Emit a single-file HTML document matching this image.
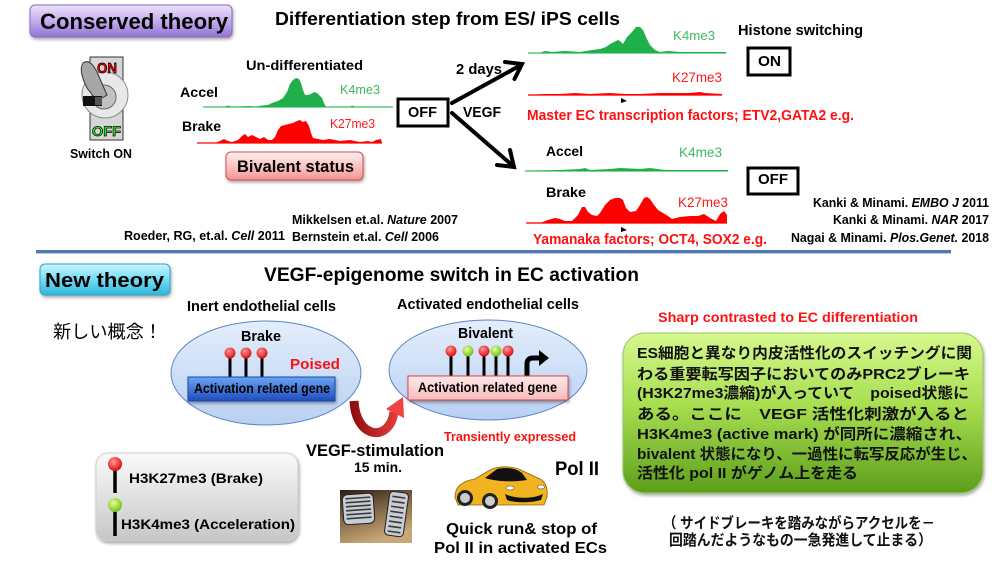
<!DOCTYPE html>
<html><head><meta charset="utf-8">
<style>
html,body{margin:0;padding:0;background:#fff;}
svg{display:block;}
text{font-family:"Liberation Sans","Noto Sans CJK JP",sans-serif;}
</style></head><body>
<svg width="1000" height="562" viewBox="0 0 1000 562" xmlns="http://www.w3.org/2000/svg">
<defs>
 <linearGradient id="gPurple" x1="0" y1="0" x2="0" y2="1"><stop offset="0" stop-color="#ece2fa"/><stop offset="0.5" stop-color="#c4aeee"/><stop offset="1" stop-color="#9272d2"/></linearGradient>
 <linearGradient id="gCyan" x1="0" y1="0" x2="0" y2="1"><stop offset="0" stop-color="#c8f6fd"/><stop offset="0.5" stop-color="#74dcf2"/><stop offset="1" stop-color="#2fb6dc"/></linearGradient>
 <linearGradient id="gPink" x1="0" y1="0" x2="0" y2="1"><stop offset="0" stop-color="#fff0f0"/><stop offset="0.5" stop-color="#fac4c4"/><stop offset="1" stop-color="#f29494"/></linearGradient>
 <linearGradient id="gEll" x1="0" y1="0" x2="0" y2="1"><stop offset="0" stop-color="#e4eefc"/><stop offset="1" stop-color="#b8d0f2"/></linearGradient>
 <linearGradient id="gBlue" x1="0" y1="0" x2="0" y2="1"><stop offset="0" stop-color="#6aa6f4"/><stop offset="1" stop-color="#1f4cbc"/></linearGradient>
 <linearGradient id="gPinkBox" x1="0" y1="0" x2="0" y2="1"><stop offset="0" stop-color="#fee8e8"/><stop offset="1" stop-color="#f8bcbc"/></linearGradient>
 <linearGradient id="gGreen" x1="0" y1="0" x2="0" y2="1"><stop offset="0" stop-color="#d6f88e"/><stop offset="0.45" stop-color="#a8de50"/><stop offset="1" stop-color="#5c9e1c"/></linearGradient>
 <linearGradient id="gLegend" x1="0" y1="0" x2="0" y2="1"><stop offset="0" stop-color="#fafafa"/><stop offset="1" stop-color="#c6c6c6"/></linearGradient>
 <linearGradient id="gRedArrow" x1="348" y1="0" x2="404" y2="0" gradientUnits="userSpaceOnUse"><stop offset="0" stop-color="#8a0808"/><stop offset="1" stop-color="#f04444"/></linearGradient>
 <linearGradient id="gPedalBg" x1="0" y1="0" x2="0.4" y2="1"><stop offset="0" stop-color="#2a1e12"/><stop offset="0.45" stop-color="#7a6040"/><stop offset="1" stop-color="#c8a878"/></linearGradient>
 <radialGradient id="gRedBall" cx="0.4" cy="0.35" r="0.7"><stop offset="0" stop-color="#ff9a9a"/><stop offset="1" stop-color="#dd0000"/></radialGradient>
 <radialGradient id="gGreenBall" cx="0.4" cy="0.35" r="0.7"><stop offset="0" stop-color="#e4ff9a"/><stop offset="1" stop-color="#6cbc10"/></radialGradient>
 <filter id="sh" x="-10%" y="-10%" width="130%" height="140%"><feDropShadow dx="1" dy="2" stdDeviation="1.5" flood-opacity="0.35"/></filter>
</defs>

<!-- ===== TOP SECTION ===== -->
<rect x="30" y="5" width="202" height="32" rx="5" fill="url(#gPurple)" stroke="#8a6ac4" stroke-width="1" filter="url(#sh)"/>
<text x="40" y="29" font-size="22" font-weight="bold" textLength="188" lengthAdjust="spacingAndGlyphs">Conserved theory</text>

<text x="275" y="25" font-size="18" font-weight="bold" textLength="345" lengthAdjust="spacingAndGlyphs">Differentiation step from ES/ iPS cells</text>

<!-- toggle switch -->
<rect x="90" y="57" width="33" height="83" fill="#d6d6d6" stroke="#333" stroke-width="1"/>
<circle cx="105" cy="95" r="23" fill="#e8e8e8" stroke="#8a8a8a" stroke-width="1"/>
<circle cx="104" cy="97" r="12" fill="#c2c2c2" stroke="#666" stroke-width="1"/>
<path d="M83,63 Q78,70 87,88 L97,101 L107,95 L97,72 Q90,58 83,63 Z" fill="#a6a6a6" stroke="#333" stroke-width="1"/>
<rect x="83" y="96" width="19" height="10" fill="#111"/>
<rect x="95" y="97" width="7" height="8" fill="#555"/>
<text x="97" y="73" font-size="15" font-weight="bold" fill="#ff0000" stroke="#000" stroke-width="0.7" textLength="20" lengthAdjust="spacingAndGlyphs">ON</text>
<text x="92" y="136" font-size="14" font-weight="bold" fill="#33ee33" stroke="#000" stroke-width="0.7" textLength="29" lengthAdjust="spacingAndGlyphs">OFF</text>
<text x="70" y="158" font-size="13" font-weight="bold" textLength="62" lengthAdjust="spacingAndGlyphs">Switch ON</text>

<text x="246" y="70" font-size="14" font-weight="bold" textLength="117" lengthAdjust="spacingAndGlyphs">Un-differentiated</text>
<text x="180" y="97" font-size="14" font-weight="bold" textLength="38" lengthAdjust="spacingAndGlyphs">Accel</text>
<text x="182" y="131" font-size="14" font-weight="bold" textLength="39" lengthAdjust="spacingAndGlyphs">Brake</text>

<!-- left tracks -->
<line x1="203" y1="107" x2="393" y2="107" stroke="#5cc87a" stroke-width="1.5"/>
<polygon fill="#1fb04c" points="203,107 225,107 228,105.5 232,107 250,106 255,107 262,105.5 268,105 272,103 278,101 283,98 287,92 290,84 293,80 296,78 299,79 301,83 303,90 305,95 308,95 311,94 314,92 317,93 320,96 322,98 324,103 326,107 350,107 352,105.5 355,107 393,107"/>
<text x="340" y="94" font-size="13" fill="#3cba5c" textLength="40" lengthAdjust="spacingAndGlyphs">K4me3</text>

<line x1="197" y1="143" x2="382" y2="143" stroke="#ff3030" stroke-width="1.5"/>
<polygon fill="#ff0000" points="197,143 215,143 220,141 224,139 228,141 232,142 238,140 242,136 245,134 248,137 252,135 256,137 260,139 264,137 268,140 272,140 275,137 278,130 281,126 285,125 289,124 293,123 297,121 300,120 303,122 306,121 309,126 311,133 313,138 318,139 323,140 330,139 340,141 350,140 360,142 368,141 372,142 376,140 381,139 382,143"/>
<text x="330" y="128" font-size="13" fill="#ff1a1a" textLength="45" lengthAdjust="spacingAndGlyphs">K27me3</text>

<rect x="226" y="152" width="137" height="28" rx="5" fill="url(#gPink)" stroke="#d84a4a" stroke-width="1" filter="url(#sh)"/>
<text x="237" y="172" font-size="17" font-weight="bold" textLength="117" lengthAdjust="spacingAndGlyphs">Bivalent status</text>

<!-- OFF box -->
<rect x="398" y="99" width="50" height="27" fill="#fff" stroke="#000" stroke-width="3"/>
<text x="408" y="117" font-size="15" font-weight="bold" textLength="29" lengthAdjust="spacingAndGlyphs">OFF</text>
<text x="456" y="74" font-size="15" font-weight="bold" textLength="46" lengthAdjust="spacingAndGlyphs">2 days</text>
<text x="463" y="117" font-size="15" font-weight="bold" textLength="38" lengthAdjust="spacingAndGlyphs">VEGF</text>

<!-- arrows -->
<g stroke="#000" stroke-width="4" stroke-linecap="round" fill="none">
 <line x1="452" y1="103" x2="521" y2="65"/>
 <polyline points="505,62 522,64 514.5,79"/>
 <line x1="452" y1="113" x2="513" y2="166"/>
 <polyline points="510,150 514,167 497,165"/>
</g>

<!-- top right tracks -->
<line x1="528" y1="53" x2="726" y2="53" stroke="#5cc87a" stroke-width="1.5"/>
<polygon fill="#1fb04c" points="528,53 540,53 545,51 552,52 565,51 580,52 592,50 600,49 606,47 610,44 614,42 618,40 620,41 623,44 627,37 632,32 636,27 640,27 643,30 646,37 650,45 655,50 660,52 668,51 680,52 726,52 726,53"/>
<text x="673" y="40" font-size="13" fill="#3cba5c" textLength="42" lengthAdjust="spacingAndGlyphs">K4me3</text>

<line x1="528" y1="95" x2="722" y2="95" stroke="#ff2020" stroke-width="1.5"/>
<polygon fill="#ff0000" points="528,95 545,94 560,94 575,93 590,94 610,93 625,94 640,94 660,93 690,93 700,92 705,93 722,94 722,95"/>
<text x="672" y="82" font-size="14" fill="#ff1a1a" textLength="50" lengthAdjust="spacingAndGlyphs">K27me3</text>
<polygon points="621,98 627,101 621,103" fill="#000"/>

<text x="527" y="120" font-size="14.5" font-weight="bold" fill="#ff1010" textLength="327" lengthAdjust="spacingAndGlyphs">Master EC transcription factors; ETV2,GATA2 e.g.</text>

<text x="738" y="35" font-size="14.5" font-weight="bold" textLength="125" lengthAdjust="spacingAndGlyphs">Histone switching</text>
<rect x="748" y="48" width="42" height="27" fill="#fff" stroke="#000" stroke-width="3"/>
<text x="758" y="66" font-size="15" font-weight="bold" textLength="23" lengthAdjust="spacingAndGlyphs">ON</text>

<text x="546" y="156" font-size="14" font-weight="bold" textLength="37" lengthAdjust="spacingAndGlyphs">Accel</text>
<text x="679" y="157" font-size="14" fill="#3cba5c" textLength="43" lengthAdjust="spacingAndGlyphs">K4me3</text>
<line x1="525" y1="171" x2="728" y2="171" stroke="#5cc87a" stroke-width="1.5"/>
<polygon fill="#1fb04c" points="525,171 560,170 580,169 585,168 590,170 610,169 620,168 640,169 650,168 665,170 700,170 728,170 728,171"/>

<rect x="748" y="168" width="50" height="26" fill="#fff" stroke="#000" stroke-width="3"/>
<text x="758" y="184" font-size="15" font-weight="bold" textLength="30" lengthAdjust="spacingAndGlyphs">OFF</text>

<text x="546" y="197" font-size="14" font-weight="bold" textLength="40" lengthAdjust="spacingAndGlyphs">Brake</text>
<text x="678" y="207" font-size="14" fill="#ff1a1a" textLength="50" lengthAdjust="spacingAndGlyphs">K27me3</text>
<line x1="526" y1="223" x2="727" y2="223" stroke="#ff2020" stroke-width="1.5"/>
<polygon fill="#ff0000" points="526,223 540,223 548,220 555,218 560,219 565,221 572,221 578,215 582,207 585,207 588,212 592,215 597,216 600,213 605,205 610,200 615,198 620,198 623,200 626,208 630,212 636,211 640,205 644,198 647,197 650,199 654,205 658,210 663,213 668,216 672,219 680,217 690,216 698,216 704,214 710,218 716,221 720,214 724,211 727,215 727,223"/>
<polygon points="621,227 627,230 621,232" fill="#000"/>

<text x="533" y="244" font-size="14.5" font-weight="bold" fill="#ff1010" textLength="234" lengthAdjust="spacingAndGlyphs">Yamanaka factors; OCT4, SOX2 e.g.</text>

<!-- references -->
<text x="292" y="224" font-size="13" font-weight="bold" textLength="166" lengthAdjust="spacingAndGlyphs">Mikkelsen et.al. <tspan font-style="italic">Nature</tspan> 2007</text>
<text x="292" y="241" font-size="13" font-weight="bold" textLength="147" lengthAdjust="spacingAndGlyphs">Bernstein et.al. <tspan font-style="italic">Cell</tspan> 2006</text>
<text x="124" y="240" font-size="13" font-weight="bold" textLength="161" lengthAdjust="spacingAndGlyphs">Roeder, RG, et.al. <tspan font-style="italic">Cell</tspan> 2011</text>
<text x="813" y="207" font-size="13" font-weight="bold" textLength="176" lengthAdjust="spacingAndGlyphs">Kanki &amp; Minami. <tspan font-style="italic">EMBO J</tspan> 2011</text>
<text x="833" y="224" font-size="13" font-weight="bold" textLength="156" lengthAdjust="spacingAndGlyphs">Kanki &amp; Minami. <tspan font-style="italic">NAR</tspan> 2017</text>
<text x="791" y="242" font-size="13" font-weight="bold" textLength="198" lengthAdjust="spacingAndGlyphs">Nagai &amp; Minami. <tspan font-style="italic">Plos.Genet.</tspan> 2018</text>

<!-- separator -->
<line x1="36" y1="253" x2="951" y2="253" stroke="#c8c8c8" stroke-width="2"/>
<line x1="36" y1="251.5" x2="951" y2="251.5" stroke="#4a7cbc" stroke-width="3"/>

<!-- ===== BOTTOM SECTION ===== -->
<rect x="40" y="264" width="130" height="31" rx="5" fill="url(#gCyan)" stroke="#2ea6cc" stroke-width="1" filter="url(#sh)"/>
<text x="45" y="287" font-size="20" font-weight="bold" textLength="119" lengthAdjust="spacingAndGlyphs">New theory</text>

<text x="264" y="281" font-size="19" font-weight="bold" textLength="375" lengthAdjust="spacingAndGlyphs">VEGF-epigenome switch in EC activation</text>

<text x="187" y="311" font-size="15" font-weight="bold" textLength="149" lengthAdjust="spacingAndGlyphs">Inert endothelial cells</text>
<text x="397" y="309" font-size="15" font-weight="bold" textLength="182" lengthAdjust="spacingAndGlyphs">Activated endothelial cells</text>

<text x="53" y="338" font-size="18" textLength="109" lengthAdjust="spacingAndGlyphs">新しい概念！</text>

<!-- left ellipse -->
<ellipse cx="266" cy="373" rx="95" ry="52" fill="url(#gEll)" stroke="#5a86c6" stroke-width="1"/>
<text x="241" y="341" font-size="15" font-weight="bold" textLength="40" lengthAdjust="spacingAndGlyphs">Brake</text>
<g stroke="#000" stroke-width="3">
 <line x1="230" y1="356" x2="230" y2="378"/>
 <line x1="246" y1="356" x2="246" y2="378"/>
 <line x1="262" y1="356" x2="262" y2="378"/>
</g>
<circle cx="230" cy="353" r="5.5" fill="url(#gRedBall)"/>
<circle cx="246" cy="353" r="5.5" fill="url(#gRedBall)"/>
<circle cx="262" cy="353" r="5.5" fill="url(#gRedBall)"/>
<text x="290" y="369" font-size="15" font-weight="bold" fill="#ff1010" textLength="50" lengthAdjust="spacingAndGlyphs">Poised</text>
<rect x="188" y="377" width="147" height="24" fill="url(#gBlue)" stroke="#1e4aa8" stroke-width="1" filter="url(#sh)"/>
<text x="194" y="393" font-size="14" font-weight="bold" textLength="136" lengthAdjust="spacingAndGlyphs">Activation related gene</text>

<!-- right ellipse -->
<ellipse cx="488" cy="370" rx="99" ry="50" fill="url(#gEll)" stroke="#5a86c6" stroke-width="1"/>
<text x="458" y="338" font-size="15" font-weight="bold" textLength="55" lengthAdjust="spacingAndGlyphs">Bivalent</text>
<g stroke="#000" stroke-width="3">
 <line x1="451" y1="354" x2="451" y2="377"/>
 <line x1="468" y1="354" x2="468" y2="377"/>
 <line x1="484" y1="354" x2="484" y2="377"/>
 <line x1="496" y1="354" x2="496" y2="377"/>
 <line x1="508" y1="354" x2="508" y2="377"/>
</g>
<circle cx="451" cy="351" r="5.5" fill="url(#gRedBall)"/>
<circle cx="468" cy="351" r="5.5" fill="url(#gGreenBall)"/>
<circle cx="484" cy="351" r="5.5" fill="url(#gRedBall)"/>
<circle cx="496" cy="351" r="5.5" fill="url(#gGreenBall)"/>
<circle cx="508" cy="351" r="5.5" fill="url(#gRedBall)"/>
<path d="M527,377 L527,364 Q527,358 533,358 L541,358" stroke="#000" stroke-width="5" fill="none"/>
<polygon points="539,350 549,358 539,366" fill="#000"/>
<rect x="408" y="376" width="160" height="24" fill="url(#gPinkBox)" stroke="#d84a4a" stroke-width="1" filter="url(#sh)"/>
<text x="418" y="392" font-size="14" font-weight="bold" textLength="139" lengthAdjust="spacingAndGlyphs">Activation related gene</text>

<!-- red U arrow -->
<path d="M354,401 C356,440 390,442 394,412" stroke="url(#gRedArrow)" stroke-width="9" fill="none"/>
<polygon points="403,397 386,409 404,418" fill="#f04444"/>

<text x="444" y="441" font-size="13" font-weight="bold" fill="#ff1010" textLength="132" lengthAdjust="spacingAndGlyphs">Transiently expressed</text>
<text x="306" y="456" font-size="16.5" font-weight="bold" textLength="138" lengthAdjust="spacingAndGlyphs">VEGF-stimulation</text>
<text x="354" y="472" font-size="14" font-weight="bold" textLength="48" lengthAdjust="spacingAndGlyphs">15 min.</text>

<!-- pedals photo -->
<rect x="340" y="490" width="72" height="53" fill="url(#gPedalBg)"/>
<g transform="rotate(-4 358 509)">
 <rect x="343" y="494" width="31" height="30" rx="5" fill="#c8ccd4" stroke="#222" stroke-width="1"/>
 <g stroke="#3a3a3a" stroke-width="1.6">
  <line x1="346" y1="498" x2="371" y2="498"/><line x1="346" y1="502" x2="371" y2="502"/>
  <line x1="346" y1="506" x2="371" y2="506"/><line x1="346" y1="510" x2="371" y2="510"/>
  <line x1="346" y1="514" x2="371" y2="514"/><line x1="346" y1="518" x2="371" y2="518"/>
 </g>
</g>
<g transform="rotate(8 396 514)">
 <rect x="387" y="492" width="19" height="44" rx="4" fill="#c8ccd4" stroke="#222" stroke-width="1"/>
 <g stroke="#3a3a3a" stroke-width="1.6">
  <line x1="390" y1="497" x2="403" y2="497"/><line x1="390" y1="502" x2="403" y2="502"/>
  <line x1="390" y1="507" x2="403" y2="507"/><line x1="390" y1="512" x2="403" y2="512"/>
  <line x1="390" y1="517" x2="403" y2="517"/><line x1="390" y1="522" x2="403" y2="522"/>
  <line x1="390" y1="527" x2="403" y2="527"/><line x1="390" y1="532" x2="403" y2="532"/>
 </g>
</g>

<!-- car -->
<path d="M455,497 C455,487 462,481 475,479 L490,470 C500,465 515,466 525,472 L538,478 C546,481 548,488 547,497 L544,505 L458,505 Z" fill="#f2b320" stroke="#8a6000" stroke-width="0.8"/>
<path d="M485,478 L497,469 C507,467 516,468 522,473 L527,480 C515,482 498,482 485,478 Z" fill="#111"/>
<path d="M505,494 C515,499 533,499 543,494 L541,500 C530,503 515,503 507,500 Z" fill="#111"/>
<ellipse cx="510" cy="488" rx="4" ry="2" fill="#fff" stroke="#555" stroke-width="0.6"/>
<ellipse cx="541" cy="487" rx="3.5" ry="2" fill="#fff" stroke="#555" stroke-width="0.6"/>
<circle cx="465" cy="498" r="8" fill="#222"/><circle cx="465" cy="498" r="5" fill="#ccc"/>
<circle cx="490" cy="501" r="8" fill="#222"/><circle cx="490" cy="501" r="5" fill="#ccc"/>

<text x="555" y="475" font-size="19" font-weight="bold" textLength="44" lengthAdjust="spacingAndGlyphs">Pol II</text>
<text x="446" y="534" font-size="16" font-weight="bold" textLength="151" lengthAdjust="spacingAndGlyphs">Quick run&amp; stop of</text>
<text x="434" y="553" font-size="16" font-weight="bold" textLength="173" lengthAdjust="spacingAndGlyphs">Pol II in activated ECs</text>

<!-- legend -->
<rect x="96" y="453" width="202" height="88" rx="12" fill="url(#gLegend)" stroke="#d0d0d0" stroke-width="1" filter="url(#sh)"/>
<line x1="115" y1="470" x2="115" y2="493" stroke="#000" stroke-width="3.5"/>
<circle cx="115" cy="464" r="7" fill="url(#gRedBall)"/>
<text x="129" y="483" font-size="14" font-weight="bold" textLength="134" lengthAdjust="spacingAndGlyphs">H3K27me3 (Brake)</text>
<line x1="115" y1="511" x2="115" y2="536" stroke="#000" stroke-width="3.5"/>
<circle cx="115" cy="505" r="7" fill="url(#gGreenBall)"/>
<text x="121" y="529" font-size="14" font-weight="bold" textLength="174" lengthAdjust="spacingAndGlyphs">H3K4me3 (Acceleration)</text>

<!-- right green box -->
<text x="658" y="322" font-size="13.5" font-weight="bold" fill="#ff1010" textLength="260" lengthAdjust="spacingAndGlyphs">Sharp contrasted to EC differentiation</text>
<rect x="623" y="333" width="360" height="160" rx="22" fill="url(#gGreen)" stroke="#9cc860" stroke-width="1" filter="url(#sh)"/>
<g font-size="15" font-weight="bold" fill="#111">
 <text x="637" y="358" textLength="335" lengthAdjust="spacingAndGlyphs">ES細胞と異なり内皮活性化のスイッチングに関</text>
 <text x="637" y="379" textLength="333" lengthAdjust="spacingAndGlyphs">わる重要転写因子においてのみPRC2ブレーキ</text>
 <text x="637" y="398" textLength="332" lengthAdjust="spacingAndGlyphs">(H3K27me3濃縮)が入っていて　poised状態に</text>
 <text x="637" y="419" textLength="332" lengthAdjust="spacingAndGlyphs">ある。ここに　VEGF 活性化刺激が入ると</text>
 <text x="637" y="439" textLength="335" lengthAdjust="spacingAndGlyphs">H3K4me3 (active mark) が同所に濃縮され、</text>
 <text x="637" y="459" textLength="340" lengthAdjust="spacingAndGlyphs">bivalent 状態になり、一過性に転写反応が生じ、</text>
 <text x="637" y="478" textLength="221" lengthAdjust="spacingAndGlyphs">活性化 pol II がゲノム上を走る</text>
</g>

<g font-size="15" font-weight="bold" fill="#111">
 <text x="663" y="528" textLength="272" lengthAdjust="spacingAndGlyphs">（ サイドブレーキを踏みながらアクセルを－</text>
 <text x="669" y="545" textLength="263" lengthAdjust="spacingAndGlyphs">回踏んだようなもの一急発進して止まる）</text>
</g>
</svg>
</body></html>
